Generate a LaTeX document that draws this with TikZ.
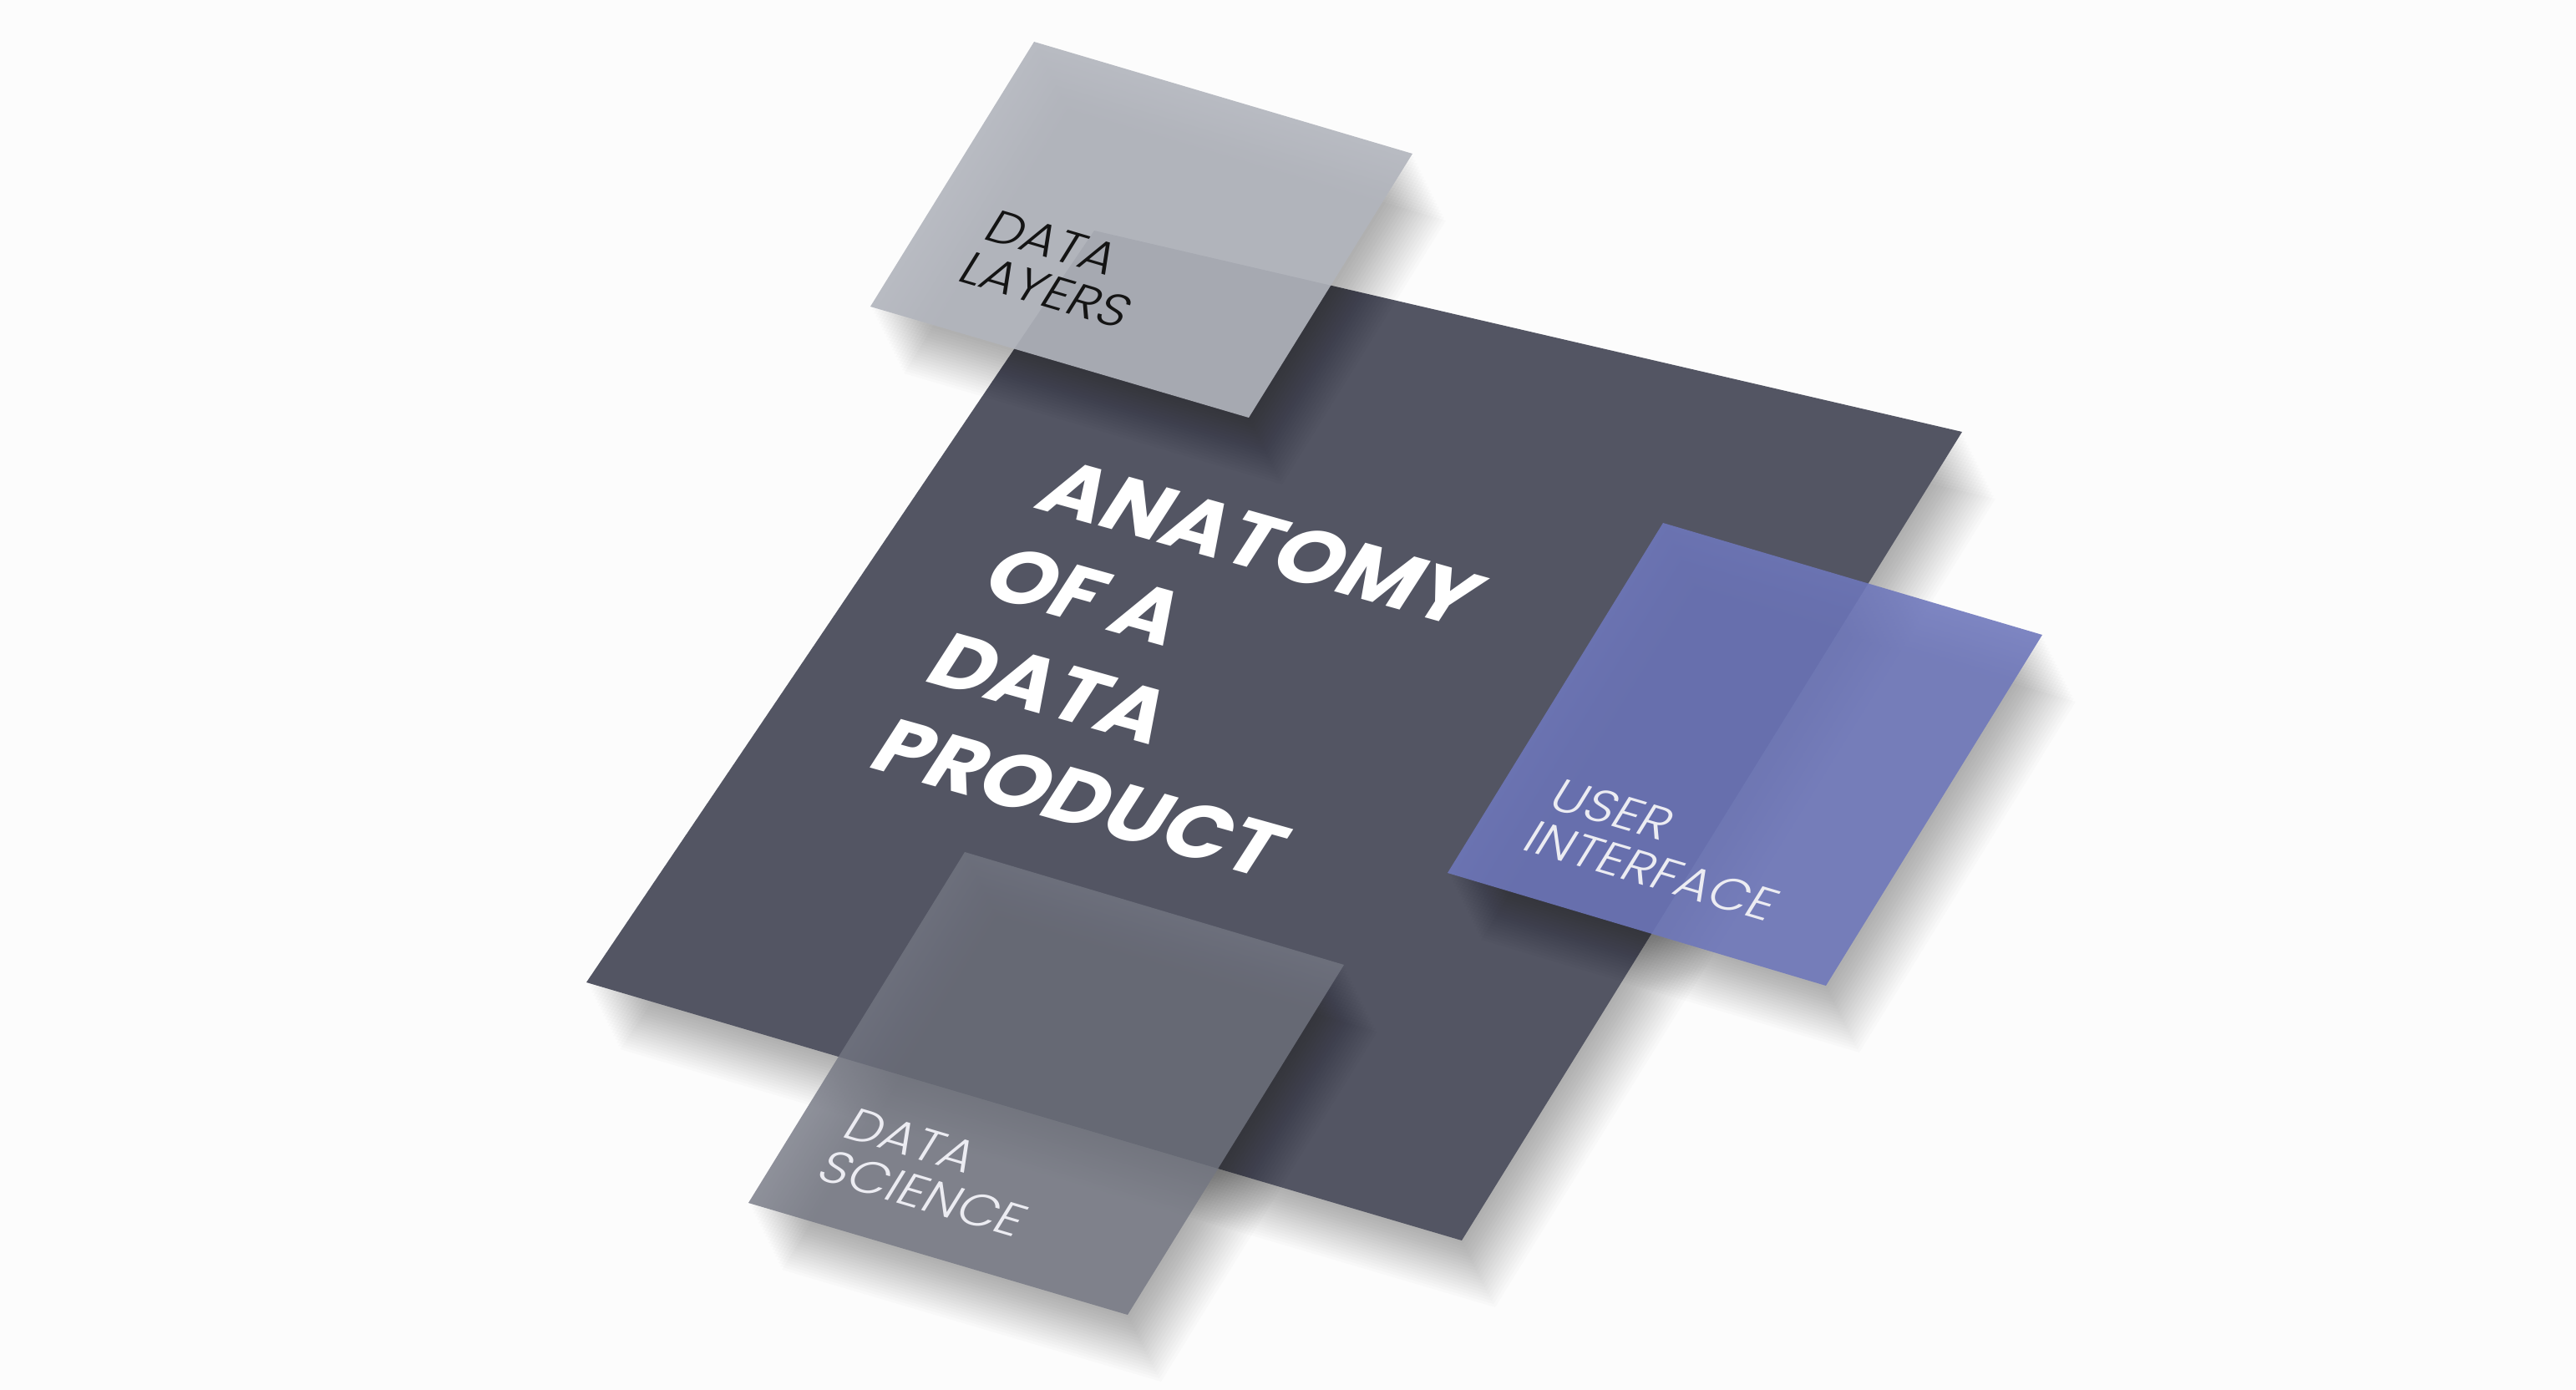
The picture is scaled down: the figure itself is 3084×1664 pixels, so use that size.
\documentclass[tikz,border=0pt]{standalone}
\usepackage{fontspec}
\newfontfamily\titlefont{Poppins}
\newfontfamily\labelfont{Poppins}[UprightFont={* Light}]
\usepackage{tikz}
\usetikzlibrary{calc}

\begin{document}
\begin{tikzpicture}[x=0.01cm,y=-0.01cm,line join=round]
	\definecolor{bgwhite}{RGB}{252,252,252}
	\definecolor{slate}{RGB}{83,85,99}
	\definecolor{layergray}{RGB}{178,181,189}
	\definecolor{uiblue}{RGB}{110,119,187}
	\definecolor{sciencegray}{RGB}{115,118,130}
	\definecolor{labelwhite}{RGB}{236,236,242}
	
	\tikzset{
		soft shadow/.style={black,opacity=0.015},
		title text/.style={anchor=base west,inner sep=0pt,transform shape,text=white,
			font=\titlefont\bfseries\fontsize{28}{28}\selectfont},
		sheet label/.style={anchor=base west,inner sep=0pt,transform shape,
			font=\labelfont\fontsize{16.5}{16.5}\selectfont},
	}
	
	% sheets (px, clockwise from the top corner)
	\def\mainsheet{(1310,276) -- (2349,517) -- (1750,1485) -- (702,1176)}
	\def\layersheet{(1238,50) -- (1691,184) -- (1495,500) -- (1042,367)}
	\def\uisheet{(1991,626) -- (2445,760) -- (2186,1180) -- (1733,1045)}
	\def\sciencesheet{(1155,1020) -- (1609,1155) -- (1350,1574) -- (896,1440)}
	
	% text planes (letters a bit wider than Poppins)
	\def\titleplane{1.0015,-0.2808,0.541,0.840,(0,0)}
	\def\sheetplane{1.026,-0.304,0.526,0.851,(0,0)}
	
	% background
	\fill[bgwhite] (0,0) rectangle (3084,1664);
	\useasboundingbox (0,0) rectangle (3084,1664);
	
	% main sheet
	\foreach \k in {1,...,20}{
		\fill[soft shadow,shift={(2*\k,4*\k)}] \mainsheet -- cycle;
	}
	\fill[slate] \mainsheet -- cycle;
	
	% title
	\begin{scope}[shift={(1235,607)},cm/.expanded={\titleplane}]
		\foreach \word [count=\i from 0] in {ANATOMY,OF A,DATA,PRODUCT}{
			\node[title text] (title\i) at (0,123.3*\i) {\word};
		}
	\end{scope}
	
	% data layers
	\foreach \k in {1,...,20}{
		\fill[soft shadow,shift={(2*\k,4*\k)}] \layersheet -- cycle;
	}
	\fill[layergray,opacity=0.91] \layersheet -- cycle;
	\begin{scope}[shift={(1174,285)},cm/.expanded={\sheetplane}]
		\node[sheet label,text=black!92] (layers1) at (0,0) {DATA};
		\node[sheet label,text=black!92] (layers2) at (0,59) {LAYERS};
	\end{scope}
	
	% user interface
	\foreach \k in {1,...,20}{
		\fill[soft shadow,shift={(2*\k,4*\k)}] \uisheet -- cycle;
	}
	\fill[uiblue,opacity=0.89] \uisheet -- cycle;
	\begin{scope}[shift={(1850,966)},cm/.expanded={\sheetplane}]
		\node[sheet label,text=labelwhite] (ui1) at (0,0) {USER};
		\node[sheet label,text=labelwhite] (ui2) at (0,59) {INTERFACE};
	\end{scope}
	
	% data science
	\foreach \k in {1,...,20}{
		\fill[soft shadow,shift={(2*\k,4*\k)}] \sciencesheet -- cycle;
	}
	\fill[sciencegray,opacity=0.8] \sciencesheet -- cycle;
	\begin{scope}[shift={(1005,1360)},cm/.expanded={\sheetplane}]
		\node[sheet label,text=labelwhite] (science1) at (0,0) {DATA};
		\node[sheet label,text=labelwhite] (science2) at (0,59) {SCIENCE};
	\end{scope}
\end{tikzpicture}
\end{document}
